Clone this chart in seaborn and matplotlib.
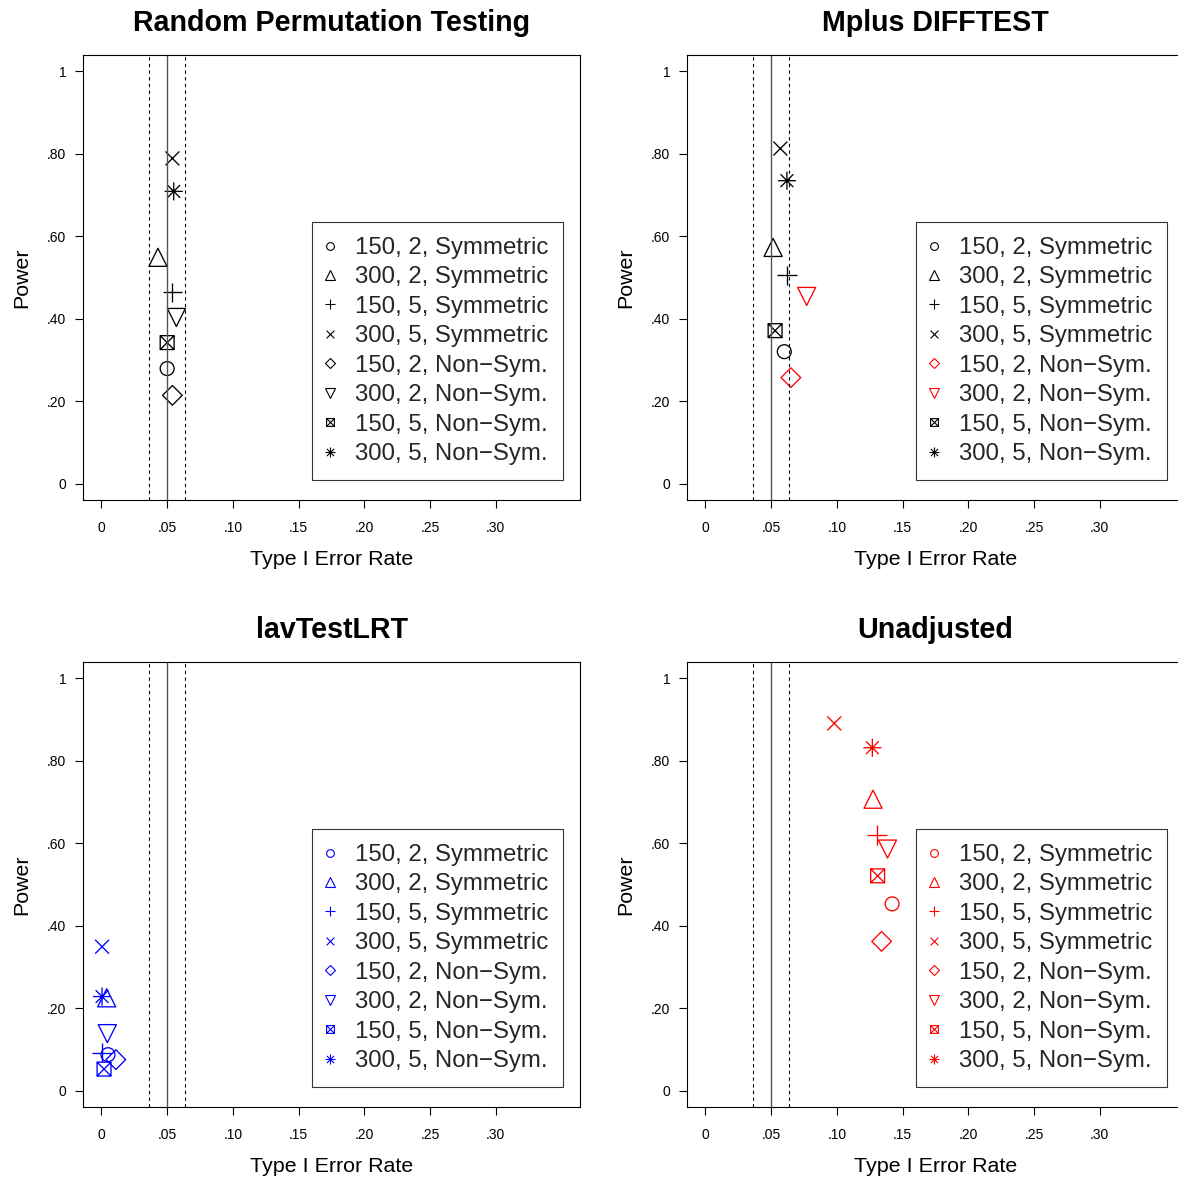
import numpy as np
import matplotlib
matplotlib.use("Agg")
import matplotlib.pyplot as plt
import seaborn as sns
from matplotlib.path import Path
from matplotlib.lines import Line2D

# conditions: N, number of categories, distribution
labels = ["150, 2, Symmetric", "300, 2, Symmetric", "150, 5, Symmetric", "300, 5, Symmetric",
          "150, 2, Non\u2212Sym.", "300, 2, Non\u2212Sym.", "150, 5, Non\u2212Sym.", "300, 5, Non\u2212Sym."]

titles = ["Random Permutation Testing", "Mplus DIFFTEST", "lavTestLRT", "Unadjusted"]

# type I error rate (x) and power (y) per method
perm_type1 = [0.050, 0.043, 0.054, 0.054, 0.054, 0.057, 0.050, 0.055]
perm_power = [0.279, 0.549, 0.464, 0.789, 0.214, 0.403, 0.342, 0.709]

mplus_type1 = [0.060, 0.0515, 0.062, 0.057, 0.065, 0.077, 0.053, 0.062]
mplus_power = [0.320, 0.573, 0.505, 0.813, 0.257, 0.454, 0.371, 0.735]

lav_type1 = [0.005, 0.004, 0.0005, 0.0005, 0.011, 0.0045, 0.002, 0.0005]
lav_power = [0.087, 0.225, 0.092, 0.349, 0.075, 0.138, 0.052, 0.228]

unadj_type1 = [0.142, 0.1275, 0.1305, 0.098, 0.134, 0.1385, 0.131, 0.127]
unadj_power = [0.453, 0.707, 0.620, 0.891, 0.362, 0.586, 0.521, 0.832]

x_ticks = [0, 0.05, 0.10, 0.15, 0.20, 0.25, 0.30]
x_ticklabels = ["0", ".05", ".10", ".15", ".20", ".25", ".30"]
y_ticks = [0, 0.2, 0.4, 0.6, 0.8, 1.0]
y_ticklabels = ["0", ".20", ".40", ".60", ".80", "1"]

nominal = 0.05
lower, upper = 0.0365, 0.0635

# R-style line markers as paths (pch 3, 4, 7, 8)
M, L, C = Path.MOVETO, Path.LINETO, Path.CLOSEPOLY
r = 0.7071
plus_m = Path([(-1, 0), (1, 0), (0, -1), (0, 1)], [M, L, M, L])
cross_m = Path([(-1, -1), (1, 1), (-1, 1), (1, -1)], [M, L, M, L])
box_x = Path([(-1, -1), (1, -1), (1, 1), (-1, 1), (-1, -1), (-1, -1), (1, 1), (-1, 1), (1, -1)],
             [M, L, L, L, C, M, L, M, L])
star_m = Path([(-1, 0), (1, 0), (0, -1), (0, 1), (-r, -r), (r, r), (-r, r), (r, -r)],
              [M, L, M, L, M, L, M, L])
markers = ["o", "^", plus_m, cross_m, "D", "v", box_x, star_m]
msizes = [10, 13, 14, 10, 10, 13, 10, 13]

sns.set_theme(style="white")
plt.rcParams["font.family"] = ["Liberation Sans", "DejaVu Sans"]


def point_color(x):
    if x < lower:
        return "#0000FF"
    if x > upper:
        return "#FF0000"
    return "#000000"


fig = plt.figure(figsize=(11.78, 11.81), dpi=100)
W, H = 1178, 1181
boxes = [(83, 55), (687, 55), (83, 662), (687, 662)]
panels = [(perm_type1, perm_power), (mplus_type1, mplus_power),
          (lav_type1, lav_power), (unadj_type1, unadj_power)]

for (left, top), title, (xs, ys) in zip(boxes, titles, panels):
    ax = fig.add_axes([left / W, 1 - (top + 445) / H, 497 / W, 445 / H])
    ax.set_xlim(-0.014, 0.364)
    ax.set_ylim(-0.04, 1.04)
    ax.axvline(nominal, color="#555555", lw=1.0)
    ax.axvline(lower, color="black", lw=0.8, ls=(0, (3, 3)))
    ax.axvline(upper, color="black", lw=0.8, ls=(0, (3, 3)))

    handles = []
    for i in range(len(labels)):
        c = point_color(xs[i])
        sns.scatterplot(x=[xs[i]], y=[ys[i]], marker=markers[i], s=msizes[i] ** 2,
                        facecolor="none", edgecolor=c, linewidth=0.95, ax=ax)
        handles.append(Line2D([], [], ls="none", marker=markers[i], ms=msizes[i] * 0.56,
                              mfc="none", mec=c, mew=0.8))

    leg = ax.legend(handles, labels, loc="lower right", bbox_to_anchor=(0.9658, 0.045),
                    fontsize=17.3, frameon=True, fancybox=False, edgecolor="black",
                    handlelength=0.25, handletextpad=0.92, labelspacing=0.31,
                    borderpad=0.62, borderaxespad=0)
    leg.get_frame().set_linewidth(0.8)

    ax.set_xticks(x_ticks, x_ticklabels)
    ax.set_yticks(y_ticks, y_ticklabels)
    ax.tick_params(axis="both", direction="out", length=6, width=0.8, color="black",
                   labelsize=10, labelcolor="black", left=True, bottom=True)
    ax.tick_params(axis="x", pad=9)
    ax.tick_params(axis="y", pad=6)
    for sp in ax.spines.values():
        sp.set_color("black")
        sp.set_linewidth(0.8)
    ax.set_xlabel("Type I Error Rate", fontsize=15.4, labelpad=11, color="black")
    ax.set_ylabel("Power", fontsize=15.4, labelpad=11, color="black")
    ax.set_title(title, fontsize=20.6, fontweight="bold", pad=17, color="black")

fig.savefig("out.png", dpi=100)
